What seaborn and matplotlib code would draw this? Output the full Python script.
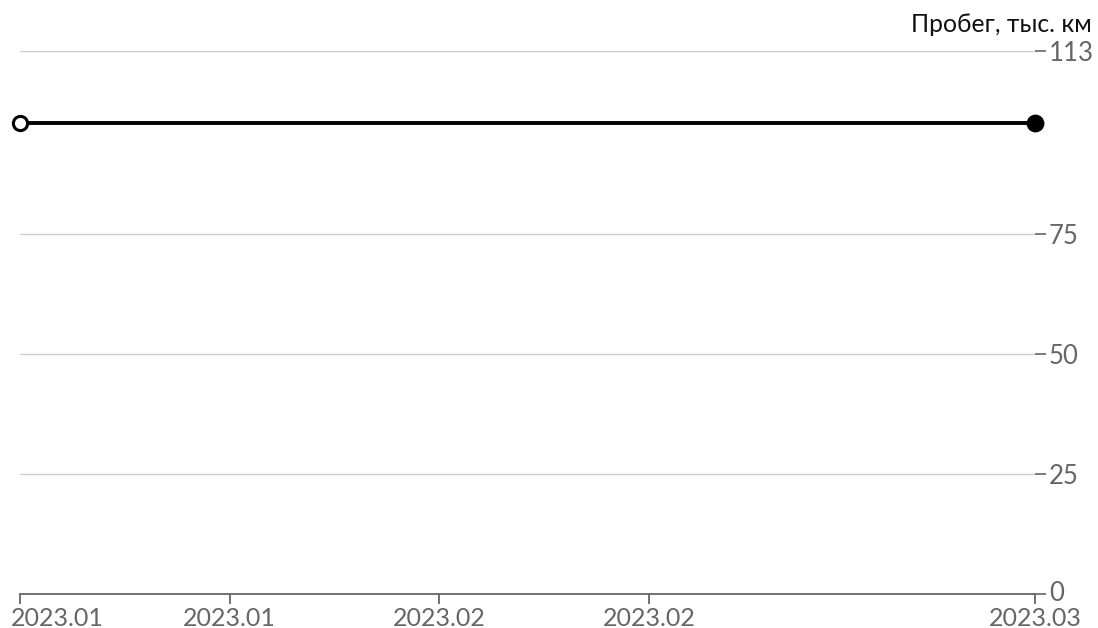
import pandas as pd
import matplotlib.pyplot as plt
import matplotlib.dates as mdates
import matplotlib.transforms as mtransforms
import seaborn as sns

# data
dates = ["2023-01-15 00:00", "2023-03-04 10:00"]
mileage = [98, 98]
tick_dates = ["2023-01-15 00:00", "2023-01-25 00:00", "2023-02-04 00:00",
              "2023-02-14 00:00", "2023-03-04 10:00"]
y_ticks = [0, 25, 50, 75, 113]
y_title = "Пробег, тыс. км"

df = pd.DataFrame({"date": pd.to_datetime(dates), "mileage": mileage})

sns.set_style("white")
plt.rcParams["font.family"] = ["Lato", "DejaVu Sans"]

fig = plt.figure(figsize=(10.98, 6.28), dpi=100)
ax = fig.add_axes([20 / 1098, 1 - 594 / 628, (1035 - 20) / 1098, (594 - 51) / 628])

sns.lineplot(data=df, x="date", y="mileage", ax=ax, color="black", linewidth=2.8,
             clip_on=False)
# open start point, filled end point
sns.scatterplot(data=df.iloc[:1], x="date", y="mileage", ax=ax, s=105,
                color="white", edgecolor="black", linewidth=2.2, zorder=5,
                clip_on=False)
sns.scatterplot(data=df.iloc[-1:], x="date", y="mileage", ax=ax, s=165,
                color="black", edgecolor="black", linewidth=0, zorder=5,
                clip_on=False)

ax.set_xlim(df["date"].min(), df["date"].max())
ax.set_ylim(0, 113)
ax.set_xticks(pd.to_datetime(tick_dates))
ax.xaxis.set_major_formatter(mdates.DateFormatter("%Y.%m"))
ax.set_yticks(y_ticks)
ax.yaxis.tick_right()

for s in ["top", "left", "right"]:
    ax.spines[s].set_visible(False)
ax.spines["bottom"].set_color("#666666")
ax.spines["bottom"].set_linewidth(1.3)

ax.grid(axis="y", color="#cccccc", linewidth=1)
ax.grid(axis="x", visible=False)
ax.tick_params(axis="x", direction="out", length=7.5, width=1.3, color="#666666",
               labelcolor="#666666", labelsize=18, pad=1.5, bottom=True)
ax.tick_params(axis="y", direction="out", length=8, width=1.2, color="#666666",
               labelcolor="#666666", labelsize=18.5, pad=2, right=True, left=False)
ax.set_xlabel("")
ax.set_ylabel("")

# first x label sits inside the figure, starting just left of its tick
first = ax.get_xticklabels()[0]
first.set_horizontalalignment("left")
first.set_transform(first.get_transform() +
                    mtransforms.ScaledTranslation(-9 / 100, 0, fig.dpi_scale_trans))

# lift the "0" label a touch so it clears the last date label
zero = ax.get_yticklabels()[0]
zero.set_transform(zero.get_transform() +
                   mtransforms.ScaledTranslation(0, 3 / 100, fig.dpi_scale_trans))

fig.text(1092 / 1098, 1 - 25 / 628, y_title, ha="right", va="center",
         fontsize=17.8, color="#111111")

fig.savefig("out.png", dpi=100)
